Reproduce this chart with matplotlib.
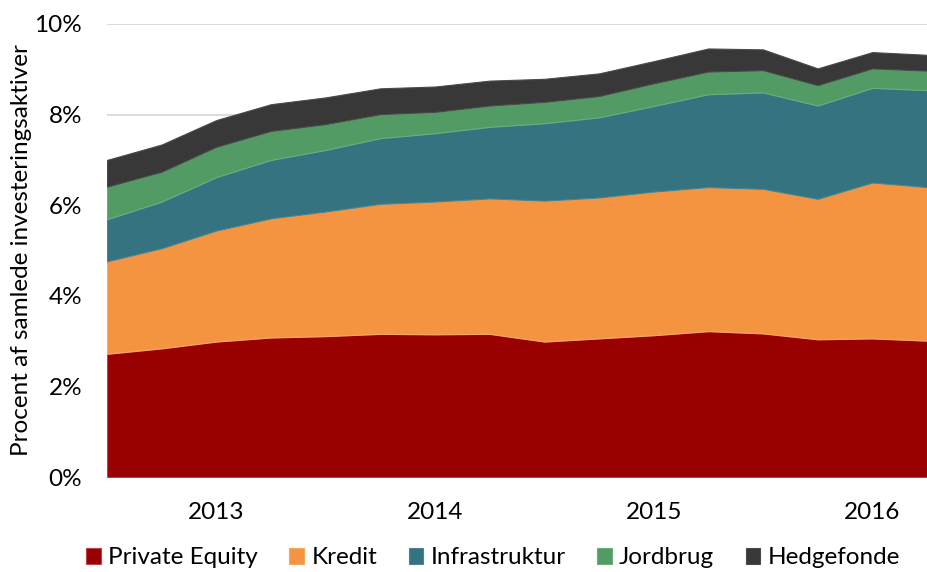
import matplotlib
matplotlib.use('Agg')
import matplotlib.pyplot as plt
import numpy as np

# quarterly shares of total investment assets, in percent
quarters = np.arange(16)
private_equity = [2.72, 2.84, 2.99, 3.08, 3.11, 3.16, 3.15, 3.16, 2.99, 3.06, 3.13, 3.22, 3.17, 3.04, 3.06, 3.01]
kredit = [2.04, 2.21, 2.45, 2.63, 2.75, 2.87, 2.93, 2.99, 3.11, 3.11, 3.17, 3.18, 3.19, 3.10, 3.44, 3.39]
infrastruktur = [0.93, 1.03, 1.18, 1.29, 1.36, 1.45, 1.51, 1.58, 1.71, 1.77, 1.89, 2.05, 2.13, 2.06, 2.09, 2.14]
jordbrug = [0.72, 0.66, 0.67, 0.64, 0.57, 0.53, 0.47, 0.47, 0.47, 0.47, 0.50, 0.50, 0.49, 0.45, 0.43, 0.43]
hedgefonde = [0.59, 0.60, 0.59, 0.59, 0.59, 0.57, 0.56, 0.55, 0.51, 0.50, 0.49, 0.51, 0.46, 0.37, 0.36, 0.35]

labels = ['Private Equity', 'Kredit', 'Infrastruktur', 'Jordbrug', 'Hedgefonde']
colors = ['#990000', '#F59440', '#357380', '#529B65', '#383838']
edges = ['#C0404D', '#F7A860', '#4A8590', '#6AAE7C', '#4A4A4A']

year_ticks = [2, 6, 10, 14]
year_labels = ['2013', '2014', '2015', '2016']

plt.rcParams['font.family'] = ['Lato', 'DejaVu Sans']
fs = 17.5

fig = plt.figure(figsize=(9.27, 5.72), dpi=100)
ax = fig.add_axes([107 / 927, 95 / 572, 820 / 927, 453 / 572])

series = [private_equity, kredit, infrastruktur, jordbrug, hedgefonde]
polys = ax.stackplot(quarters, *series, colors=colors, labels=labels, zorder=2)
for p, ec in zip(polys, edges):
    p.set_edgecolor(ec)
    p.set_linewidth(0.8)

ax.set_xlim(0, 15)
ax.set_ylim(0, 10)
ax.set_yticks(np.arange(0, 11, 2))
ax.set_yticklabels(['%d%%' % v for v in range(0, 11, 2)])
ax.set_xticks(year_ticks)
ax.set_xticklabels(year_labels)
ax.tick_params(axis='both', length=0, labelsize=fs, colors='#000000')
ax.tick_params(axis='x', pad=18)
ax.tick_params(axis='y', pad=18)
ax.grid(True, axis='y', color='#D9D9D9', linewidth=1.3, zorder=0)
ax.set_axisbelow(True)
for s in ax.spines.values():
    s.set_visible(False)

ax.set_ylabel('Procent af samlede investeringsaktiver', fontsize=fs)
ax.yaxis.set_label_coords(-0.091, 0.5)

handles, lbls = ax.get_legend_handles_labels()
fig.legend(handles, lbls, loc='center', bbox_to_anchor=(0.532, 0.0245), ncol=5,
           frameon=False, fontsize=fs, handlelength=0.6, handleheight=0.6,
           handletextpad=0.3, columnspacing=1.3)

fig.savefig('out.png', dpi=100)
